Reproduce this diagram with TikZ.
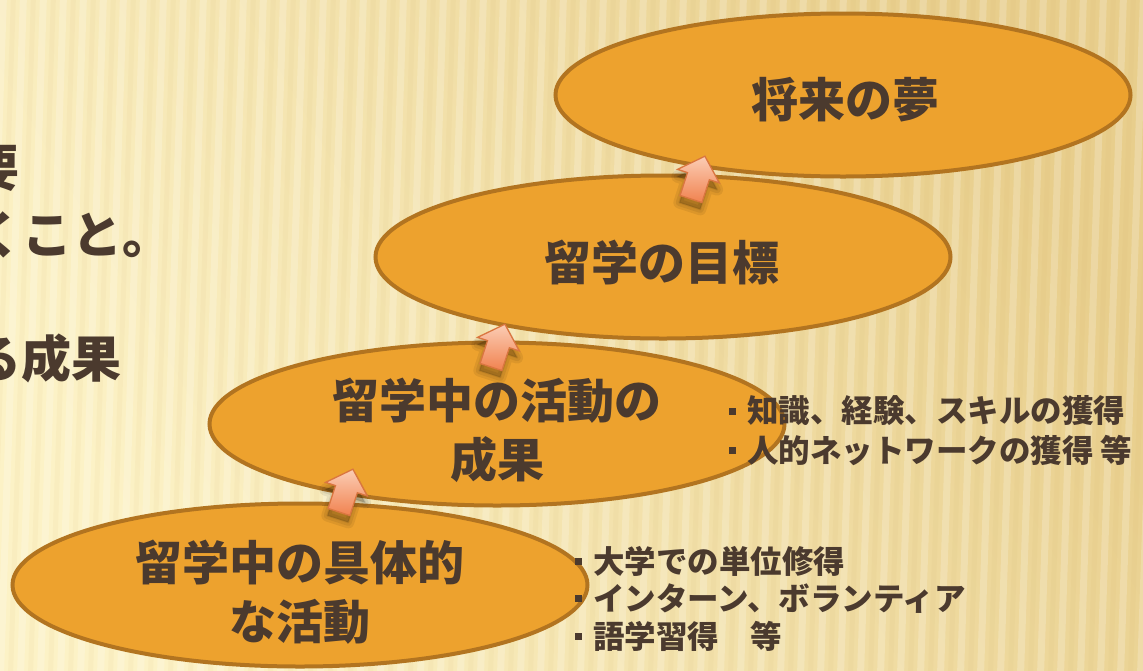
\documentclass[tikz,border=0pt]{standalone}
\usepackage{fontspec}
\newfontfamily\jp{Noto Sans CJK JP}
\usetikzlibrary{shapes.geometric,calc}
\definecolor{bgA}{HTML}{FCF2C6}
\definecolor{bgB}{HTML}{E8CE8C}
\definecolor{stripedark}{HTML}{C9A55A}
\definecolor{ellfill}{HTML}{EDA22E}
\definecolor{ellline}{HTML}{B27420}
\definecolor{txt}{HTML}{4B3A2E}
\definecolor{arrlight}{HTML}{FBCDB5}
\definecolor{arrdark}{HTML}{F1824F}
\definecolor{arrline}{HTML}{DA7640}
\tikzset{
  stepell/.style={ellipse, draw=ellline, line width=4pt, fill=ellfill,
    minimum width=575pt, minimum height=163pt, inner sep=0pt},
  elltext/.style={text=txt, font=\jp\bfseries\fontsize{47}{59}\selectfont,
    align=center, inner sep=0pt},
  listline/.style={text=txt, font=\jp\bfseries\fontsize{31.5}{38}\selectfont,
    anchor=base west, inner sep=0pt},
  lefttext/.style={text=txt, font=\jp\bfseries\fontsize{50}{60}\selectfont,
    anchor=base east, inner sep=0pt},
  arrowshadow/.style={black, opacity=0.07, line join=round},
  arrowbody/.style={top color=arrlight, bottom color=arrdark, draw=arrline,
    line width=1.3pt, line join=miter},
  pics/blockarrow/.style={code={
    \foreach \w in {12,7,2}{
      \filldraw[arrowshadow, line width=\w pt, shift={(1,7)}]
        (-11,0) -- (-11,-24) -- (-21,-24) -- (0,-44) -- (21,-24) -- (11,-24) -- (11,0) -- cycle;
    }
    \shade[arrowbody]
      (-11.5,0) -- (-11.5,-24) -- (-22,-24) -- (0,-45) -- (22,-24) -- (11.5,-24) -- (11.5,0) -- cycle;
  }}
}
\newcommand{\bulsq}{\makebox[18pt][l]{\raisebox{8pt}{\rule{7pt}{7pt}}}}
\begin{document}
\begin{tikzpicture}[x=1pt,y=-1pt]
\useasboundingbox (0,0) rectangle (1143,670);
\clip (0,0) rectangle (1143,670);
% background
\shade[left color=bgA, right color=bgB, shading angle=120] (0,0) rectangle (1143,670);
\foreach \i in {-3,...,58}{
  \draw[white, opacity=0.20, line width=7pt] (\i*20,690) -- (\i*20+24,-20);
  \draw[stripedark, opacity=0.06, line width=5pt] (\i*20+10,690) -- (\i*20+34,-20);
}
% left partial text
\node[lefttext] (l1) at (20,186) {要};
\node[lefttext] (l2) at (173,253) {くこと。};
\node[lefttext] (l3) at (122,377) {る成果};
% ellipses
\node[stepell] (e1) at (843,95) {};
\node[stepell] (e2) at (663,257) {};
\node[stepell] (e3) at (497,424) {};
\node[stepell] (e4) at (300,585) {};
% arrows
\pic[rotate=-18] at (339,512) {blockarrow};
\pic[rotate=-18] at (491,367) {blockarrow};
\pic[rotate=-18] at (691,199) {blockarrow};
% ellipse texts
\node[elltext] (t1) at (845,100) {将来の夢};
\node[elltext] (t2) at (662,262) {留学の目標};
\node[elltext] (t3) at (497,430) {留学中の活動の\\成果};
\node[elltext] (t4) at (300,592) {留学中の具体的\\な活動};
% lists
\node[listline] (r1) at (729,422.5) {\bulsq 知識、経験、スキルの獲得};
\node[listline] (r2) at (729,462) {\bulsq 人的ネットワークの獲得 等};
\node[listline] (b1) at (575,573) {\bulsq 大学での単位修得};
\node[listline] (b2) at (575,610) {\bulsq インターン、ボランティア};
\node[listline] (b3) at (575,648) {\bulsq 語学習得　等};
\end{tikzpicture}
\end{document}
